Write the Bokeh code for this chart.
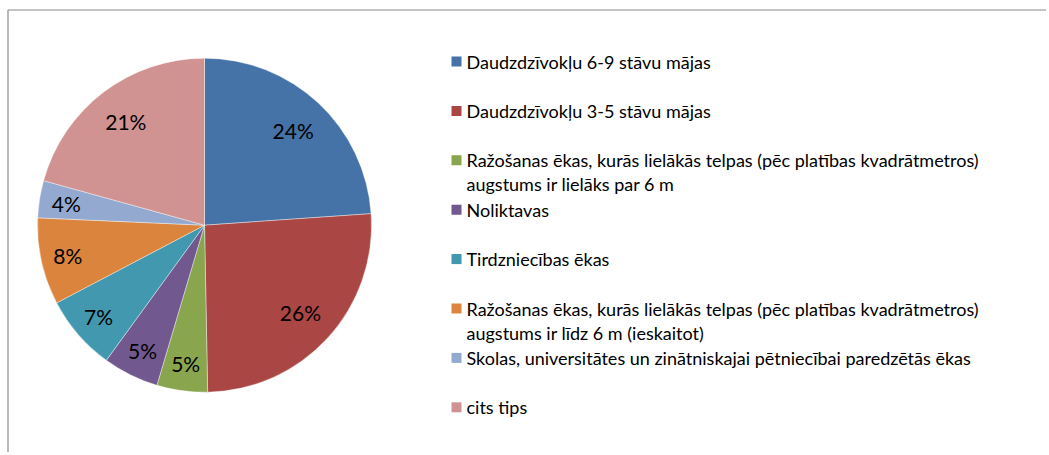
import math
from bokeh.plotting import figure
from bokeh.models import Range1d
from bokeh.core.properties import value
from bokeh.embed import file_html
from bokeh.resources import INLINE

# ---- data ----
categories = [
    "Daudzdzīvokļu 6-9 stāvu mājas",
    "Daudzdzīvokļu 3-5 stāvu mājas",
    "Ražošanas ēkas, kurās lielākās telpas (pēc platības kvadrātmetros)\naugstums ir lielāks par 6 m",
    "Noliktavas",
    "Tirdzniecības ēkas",
    "Ražošanas ēkas, kurās lielākās telpas (pēc platības kvadrātmetros)\naugstums ir līdz 6 m (ieskaitot)",
    "Skolas, universitātes un zinātniskajai pētniecībai paredzētās ēkas",
    "cits tips",
]
shares = [23.9, 25.8, 4.9, 5.4, 7.3, 8.4, 3.6, 20.7]
colors = ["#4572A7", "#AA4643", "#89A54E", "#71588F",
          "#4198AF", "#DB843D", "#93A9CF", "#D19392"]

# ---- layout (pixel-based data space) ----
W, H = 1046, 452
OFF = 0  # observed page offset

def px(x):
    return x - OFF

def py(y):
    return H - (y - OFF)

p = figure(width=W, height=H, output_backend="svg", toolbar_location=None,
           x_range=Range1d(0, W), y_range=Range1d(0, H),
           x_axis_type=None, y_axis_type=None, min_border=0)
p.outline_line_color = None
p.grid.visible = False
p.background_fill_color = "white"
p.border_fill_color = "white"

# chart frame (left and top edges visible)
p.segment(x0=[px(7.5), px(7.5)], y0=[py(470), py(9.5)],
          x1=[px(7.5), px(1070)], y1=[py(9.5), py(9.5)],
          line_color="#8a8a8a", line_width=1.2)

# pie
cx, cy, R = px(204), py(224.7), 167
total = sum(shares)
starts, ends, mids = [], [], []
cum = 0.0
for v in shares:
    a0 = cum / total
    cum += v
    a1 = cum / total
    starts.append(math.pi / 2 - 2 * math.pi * a0)
    ends.append(math.pi / 2 - 2 * math.pi * a1)
    mids.append((a0 + a1) / 2)

p.wedge(x=cx, y=cy, radius=R, start_angle=starts, end_angle=ends,
        direction="clock", fill_color=colors, line_color="white",
        line_alpha=0.5, line_width=0.8)

lx, ly, lt = [], [], []
for v, m in zip(shares, mids):
    r = 130 if v >= 10 else 140
    ang = 2 * math.pi * m
    lx.append(cx + r * math.sin(ang))
    ly.append(cy + r * math.cos(ang))
    lt.append(f"{round(v)}%")
p.text(x=lx, y=ly, text=lt, text_align="center", text_baseline="middle",
       text_font=value("Lato"), text_font_size="21px", text_color="black")

# legend (manual, Excel-like)
sq_x = px(456)
tx = px(466)
top = 61
step = 49.4
line_h = 24
sx, sy, scol = [], [], []
tx_l, ty_l, tt_l = [], [], []
for i, (lab, col) in enumerate(zip(categories, colors)):
    yc = top + i * step
    sx.append(sq_x)
    sy.append(py(yc))
    scol.append(col)
    for j, line in enumerate(lab.split("\n")):
        tx_l.append(tx)
        ty_l.append(py(yc + j * line_h))
        tt_l.append(line)
p.rect(x=sx, y=sy, width=10, height=10, fill_color=scol, line_color=None)
p.text(x=tx_l, y=ty_l, text=tt_l, text_align="left", text_baseline="middle",
       text_font=value("Lato"), text_font_size="18px", text_color="black")

open("out.html", "w").write(file_html(p, INLINE))
